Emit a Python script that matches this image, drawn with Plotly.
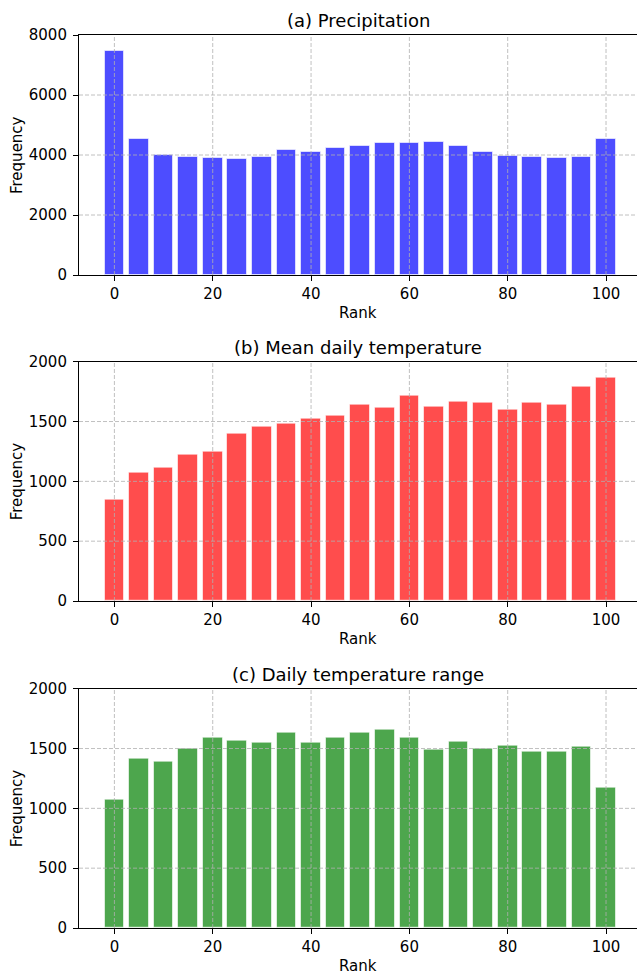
import plotly.graph_objects as go
from plotly.subplots import make_subplots

ranks = [0, 5, 10, 15, 20, 25, 30, 35, 40, 45, 50, 55, 60, 65, 70, 75, 80, 85, 90, 95, 100]
precip = [7470, 4545, 4000, 3920, 3890, 3855, 3920, 4165, 4100, 4235, 4310, 4410, 4390, 4420, 4310, 4090, 3980, 3935, 3890, 3935, 4520]
tmean = [845, 1075, 1112, 1223, 1245, 1400, 1457, 1485, 1521, 1549, 1638, 1613, 1713, 1621, 1669, 1655, 1596, 1660, 1638, 1789, 1869]
dtr = [1071, 1414, 1386, 1498, 1593, 1562, 1548, 1629, 1548, 1587, 1629, 1657, 1587, 1489, 1559, 1498, 1526, 1475, 1475, 1512, 1174]

titles = ["(a) Precipitation", "(b) Mean daily temperature", "(c) Daily temperature range"]
series = [precip, tmean, dtr]
colors = ["#4d4dff", "#ff4d4d", "#4da64d"]
x_ticks = [0, 20, 40, 60, 80, 100]
y_ticks = [[0, 2000, 4000, 6000, 8000], [0, 500, 1000, 1500, 2000], [0, 500, 1000, 1500, 2000]]
y_ranges = [[0, 8000], [0, 2000], [0, 2000]]
x_range = [-7.2, 106.3]

W, H = 637, 975
FONT = "DejaVu Sans"
x_dom = [79 / W, 1.0]
y_doms = [[1 - 275 / H, 1 - 35 / H], [1 - 601 / H, 1 - 361.7 / H], [1 - 928 / H, 1 - 688.7 / H]]

fig = make_subplots(rows=3, cols=1)
annotations = []
shapes = []
for i in range(3):
    r = i + 1
    fig.add_trace(go.Bar(
        x=ranks, y=series[i], width=4,
        marker=dict(color=colors[i], line=dict(color="rgba(255,255,255,0.6)", width=1)),
        showlegend=False,
    ), row=r, col=1)
    xa = "x" if r == 1 else f"x{r}"
    ya = "y" if r == 1 else f"y{r}"
    fig.update_xaxes(
        row=r, col=1, domain=x_dom, range=x_range, tickvals=x_ticks, automargin=False,
        showgrid=False, zeroline=False, showline=True, mirror=True,
        linecolor="black", linewidth=1.1, ticks="outside", ticklen=5,
        tickcolor="black", tickwidth=1,
        tickfont=dict(family=FONT, size=15, color="black"),
    )
    fig.update_yaxes(
        row=r, col=1, domain=y_doms[i], range=y_ranges[i], tickvals=y_ticks[i], automargin=False,
        showgrid=False, zeroline=False, showline=True, mirror=False,
        linecolor="black", linewidth=1.1, ticks="outside", ticklen=5,
        tickcolor="black", tickwidth=1, ticklabelstandoff=3,
        tickfont=dict(family=FONT, size=15, color="black"),
    )
    # grid lines drawn above bars, as matplotlib does
    for xv in x_ticks:
        shapes.append(dict(type="line", xref=xa, yref=f"{ya} domain", x0=xv, x1=xv, y0=0, y1=1,
                           line=dict(color="#b0b0b0", width=0.8, dash="4px,2px"), layer="above"))
    for yv in y_ticks[i]:
        if yv in y_ranges[i]:
            continue
        shapes.append(dict(type="line", xref=f"{xa} domain", yref=ya, x0=0, x1=1, y0=yv, y1=yv,
                           line=dict(color="#b0b0b0", width=0.8, dash="4px,2px"), layer="above"))
    annotations.append(dict(text=titles[i], xref=f"{xa} domain", yref=f"{ya} domain", x=0.5, y=1,
                            xanchor="center", yanchor="middle", yshift=14, showarrow=False,
                            font=dict(family=FONT, size=18, color="black")))
    annotations.append(dict(text="Rank", xref=f"{xa} domain", yref=f"{ya} domain", x=0.5, y=0,
                            xanchor="center", yanchor="middle", yshift=-38, showarrow=False,
                            font=dict(family=FONT, size=15, color="black")))
    annotations.append(dict(text="Frequency", xref="paper", yref=f"{ya} domain", x=17 / W, y=0.5,
                            xanchor="center", yanchor="middle", textangle=-90, showarrow=False,
                            font=dict(family=FONT, size=15, color="black")))

fig.update_layout(
    width=W, height=H, autosize=False,
    margin=dict(l=0, r=0, t=0, b=0, autoexpand=False),
    paper_bgcolor="white", plot_bgcolor="white",
    annotations=annotations, shapes=shapes,
    bargap=0,
    font=dict(family=FONT, color="black"),
)
fig.write_html("out.html")
